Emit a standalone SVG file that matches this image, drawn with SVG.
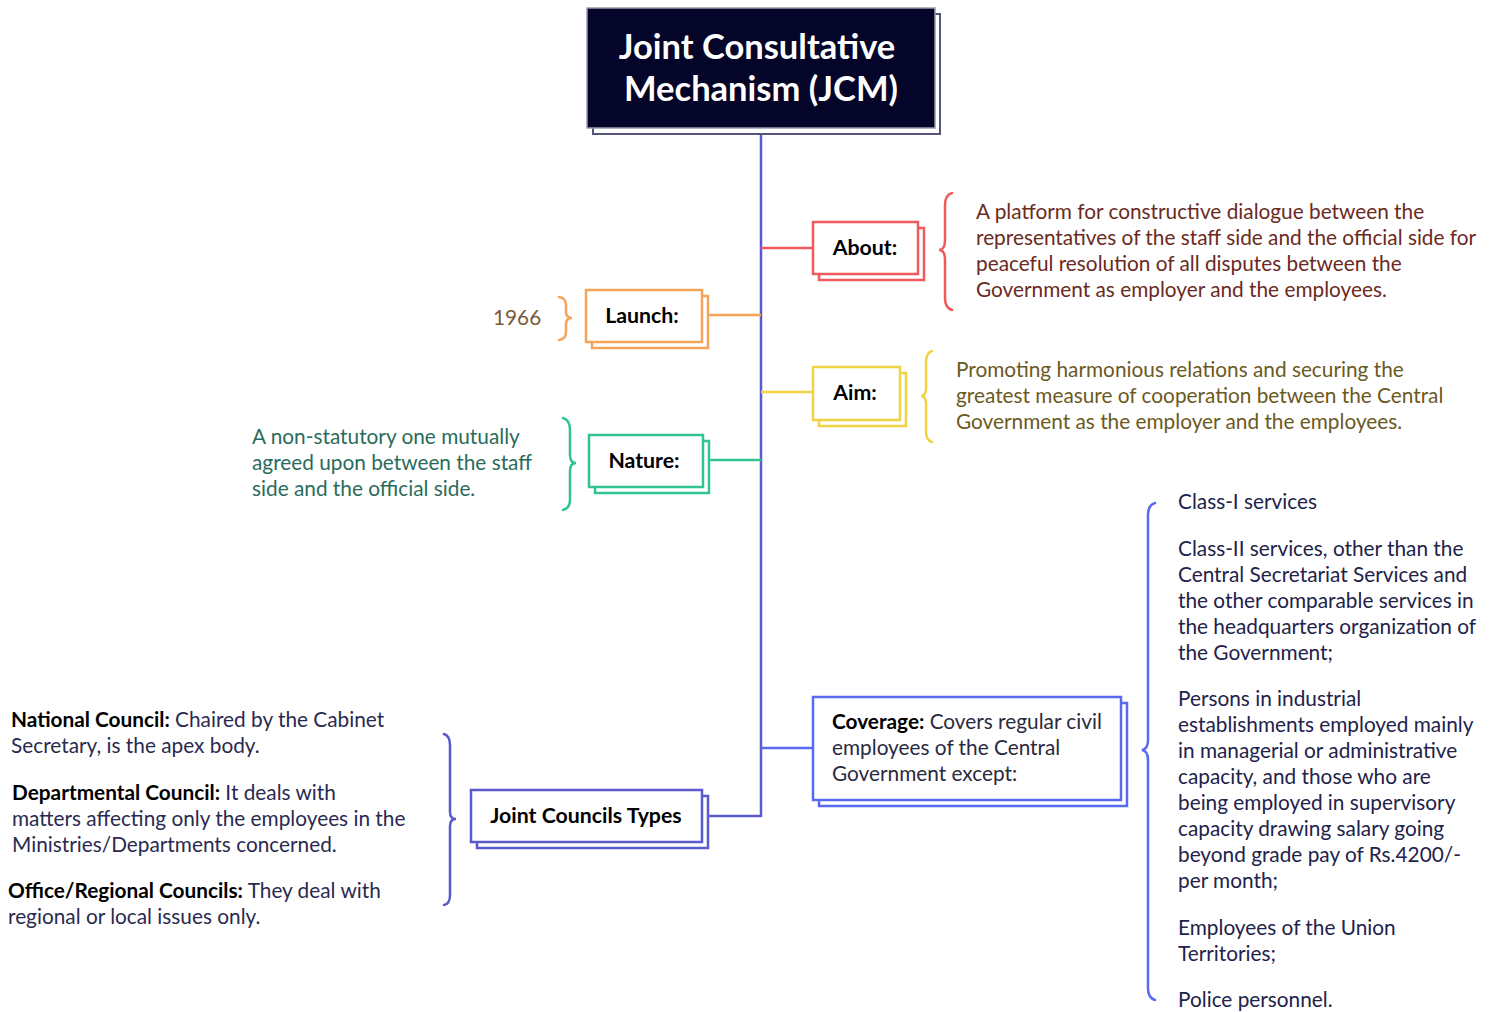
<svg xmlns="http://www.w3.org/2000/svg" width="1497" height="1012" viewBox="0 0 1497 1012">
<style>
.t{font-family:Lato,"Open Sans","Liberation Sans",sans-serif;font-size:20.8px}
.b{font-weight:bold;fill:#000}
.lbl{font-family:Lato,"Open Sans","Liberation Sans",sans-serif;font-size:21.3px;font-weight:bold;fill:#000}
.box{fill:#fff;stroke-width:2.5}
.br{fill:none;stroke-width:2.5;stroke-linecap:round}
.ln{fill:none;stroke-width:2.5}
</style>
<rect width="1497" height="1012" fill="#fff"/>
<g id="connectors">
<line class="ln" x1="761" y1="128" x2="761" y2="817" stroke="#5a5acd"/>
<line class="ln" x1="761" y1="248" x2="813" y2="248" stroke="#f05a5a"/>
<line class="ln" x1="708" y1="315" x2="761" y2="315" stroke="#f5a55a"/>
<line class="ln" x1="761" y1="392" x2="813" y2="392" stroke="#f0d245"/>
<line class="ln" x1="709" y1="460" x2="761" y2="460" stroke="#32c391"/>
<line class="ln" x1="761" y1="748" x2="813" y2="748" stroke="#5a6af0"/>
<line class="ln" x1="708" y1="816" x2="761" y2="816" stroke="#5a5acd"/>
</g>
<g id="title">
<rect x="593" y="14" width="347" height="120" fill="#fff" stroke="#55557a" stroke-width="2"/>
<rect x="587" y="8" width="348" height="120" fill="#05052a" stroke="#9a9aaa" stroke-width="1.5"/>
<text x="757" y="59" text-anchor="middle" font-family="Lato,'Open Sans','Liberation Sans',sans-serif" font-size="34.5" font-weight="bold" fill="#fff">Joint Consultative</text>
<text x="761" y="101" text-anchor="middle" font-family="Lato,'Open Sans','Liberation Sans',sans-serif" font-size="34.5" font-weight="bold" fill="#fff">Mechanism (JCM)</text>
</g>
<g id="about">
<rect class="box" x="819" y="228" width="105" height="52" stroke="#f05a5a"/>
<rect class="box" x="813" y="222" width="105" height="52" stroke="#f05a5a"/>
<text class="lbl" x="865" y="255" text-anchor="middle">About:</text>
<path class="br" stroke="#f05a5a" d="M952,193 Q945,195 945,205 L945,240 Q945,250 939,250 Q945,250 945,260 L945,298 Q945,308 952,310"/>
<g class="t" fill="#6b2a22">
<text x="976" y="219">A platform for constructive dialogue between the</text>
<text x="976" y="245">representatives of the staff side and the official side for</text>
<text x="976" y="271">peaceful resolution of all disputes between the</text>
<text x="976" y="297">Government as employer and the employees.</text>
</g>
</g>
<g id="launch">
<rect class="box" x="592" y="296" width="116" height="52" stroke="#f5a55a"/>
<rect class="box" x="586" y="290" width="116" height="52" stroke="#f5a55a"/>
<text class="lbl" x="642" y="323" text-anchor="middle">Launch:</text>
<path class="br" stroke="#f5a55a" d="M559,297 Q566,298 566,305 L566,312 Q566,318 572,318 Q566,318 566,324 L566,332 Q566,339 559,340"/>
<text class="t" x="493" y="325" fill="#7a5a3a">1966</text>
</g>
<g id="aim">
<rect class="box" x="819" y="373" width="87" height="53" stroke="#f0d245"/>
<rect class="box" x="813" y="367" width="87" height="53" stroke="#f0d245"/>
<text class="lbl" x="855" y="400" text-anchor="middle">Aim:</text>
<path class="br" stroke="#f0d245" d="M932,351 Q926,353 926,362 L926,388 Q926,396 921,396 Q926,396 926,404 L926,432 Q926,440 932,442"/>
<g class="t" fill="#6b5a1e">
<text x="956" y="377">Promoting harmonious relations and securing the</text>
<text x="956" y="403">greatest measure of cooperation between the Central</text>
<text x="956" y="429">Government as the employer and the employees.</text>
</g>
</g>
<g id="nature">
<rect class="box" x="595" y="441" width="114" height="52" stroke="#32c391"/>
<rect class="box" x="589" y="435" width="114" height="52" stroke="#32c391"/>
<text class="lbl" x="644" y="468" text-anchor="middle">Nature:</text>
<path class="br" stroke="#32c391" d="M563,418 Q570,420 570,430 L570,455 Q570,463 576,463 Q570,463 570,471 L570,500 Q570,508 563,510"/>
<g class="t" fill="#2a6b5c">
<text x="252" y="444">A non-statutory one mutually</text>
<text x="252" y="470">agreed upon between the staff</text>
<text x="252" y="496">side and the official side.</text>
</g>
</g>
<g id="coverage">
<rect class="box" x="819" y="703" width="308" height="103" stroke="#5a6af0"/>
<rect class="box" x="813" y="697" width="308" height="103" stroke="#5a6af0"/>
<g class="t" fill="#2a2a40">
<text x="832" y="729"><tspan class="b">Coverage:</tspan> Covers regular civil</text>
<text x="832" y="755">employees of the Central</text>
<text x="832" y="781">Government except:</text>
</g>
<path class="br" stroke="#5a6af0" d="M1155,503 Q1148,505 1148,515 L1148,740 Q1148,749 1142,750 Q1148,751 1148,760 L1148,988 Q1148,998 1155,1000"/>
<g class="t" fill="#22224a">
<text x="1178" y="509">Class-I services</text>
<text x="1178" y="556">Class-II services, other than the</text>
<text x="1178" y="582">Central Secretariat Services and</text>
<text x="1178" y="608">the other comparable services in</text>
<text x="1178" y="634">the headquarters organization of</text>
<text x="1178" y="660">the Government;</text>
<text x="1178" y="706">Persons in industrial</text>
<text x="1178" y="732">establishments employed mainly</text>
<text x="1178" y="758">in managerial or administrative</text>
<text x="1178" y="784">capacity, and those who are</text>
<text x="1178" y="810">being employed in supervisory</text>
<text x="1178" y="836">capacity drawing salary going</text>
<text x="1178" y="862">beyond grade pay of Rs.4200/-</text>
<text x="1178" y="888">per month;</text>
<text x="1178" y="935">Employees of the Union</text>
<text x="1178" y="961">Territories;</text>
<text x="1178" y="1007">Police personnel.</text>
</g>
</g>
<g id="councils">
<rect class="box" x="477" y="796" width="231" height="52" stroke="#5a5acd"/>
<rect class="box" x="471" y="790" width="231" height="52" stroke="#5a5acd"/>
<text class="lbl" x="586" y="823" text-anchor="middle">Joint Councils Types</text>
<path class="br" stroke="#5a5acd" d="M444,734 Q450,736 450,745 L450,812 Q450,819 456,819 Q450,819 450,826 L450,895 Q450,904 444,905"/>
<g class="t" fill="#2a2a50">
<text x="11" y="727"><tspan class="b">National Council:</tspan> Chaired by the Cabinet</text>
<text x="11" y="753">Secretary, is the apex body.</text>
<text x="12" y="800"><tspan class="b">Departmental Council:</tspan> It deals with</text>
<text x="12" y="826">matters affecting only the employees in the</text>
<text x="12" y="852">Ministries/Departments concerned.</text>
<text x="8" y="898"><tspan class="b">Office/Regional Councils:</tspan> They deal with</text>
<text x="8" y="924">regional or local issues only.</text>
</g>
</g>
</svg>
